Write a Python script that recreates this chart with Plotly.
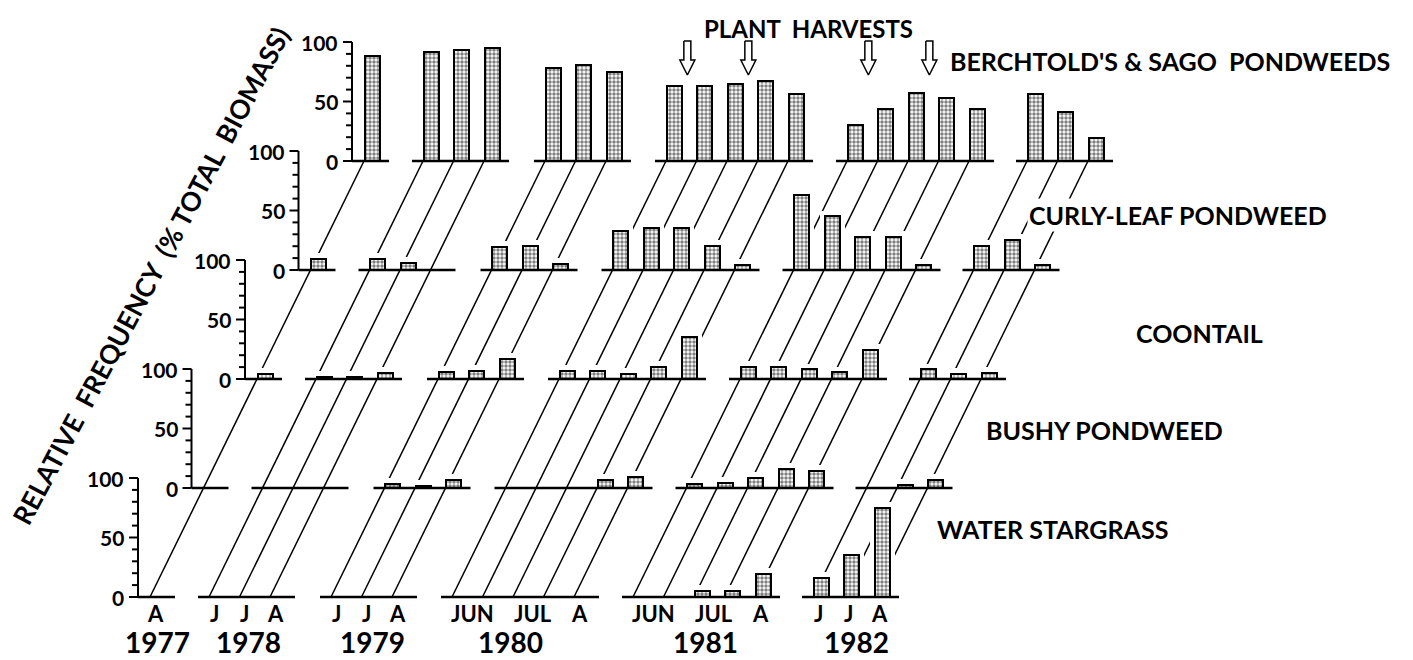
import plotly.graph_objects as go

# ---------------- data ----------------
years = ["1977", "1978", "1979", "1980", "1981", "1982"]
sample_months = [["Aug"], ["Jun", "Jul", "Aug"], ["Jun", "Jul", "Aug"],
                 ["Jun", "Jun", "Jul", "Jul", "Aug"], ["Jun", "Jun", "Jul", "Jul", "Aug"],
                 ["Jun", "Jul", "Aug"]]
short_month = {"Jun": "J", "Jul": "J", "Aug": "A"}
long_month = {"Jun": "JUN", "Jul": "JUL", "Aug": "A"}
month_style = ["short", "short", "short", "long", "long", "short"]

species = ["WATER STARGRASS", "BUSHY PONDWEED", "COONTAIL",
           "CURLY-LEAF PONDWEED", "BERCHTOLD'S & SAGO\u00a0\u00a0PONDWEEDS"]

# relative frequency (% of total biomass), per year, per sample
water_stargrass = [[0], [0, 0, 0], [0, 0, 0], [0, 0, 0, 0, 0], [0, 0, 5, 5, 19], [16, 35, 75]]
bushy_pondweed = [[0], [0, 0, 0], [3, 2, 7], [0, 0, 0, 7, 9], [3, 4, 8.5, 16, 14], [0, 2.5, 7]]
coontail = [[4], [2, 2, 5], [6, 6.5, 17], [7, 7, 4, 10, 35], [10, 10, 8, 5.5, 24], [8, 4, 5]]
curly_leaf = [[9], [9, 6, 0], [19, 20, 5], [33, 35, 35, 20, 4], [63, 45, 28, 27.5, 4], [20, 25, 4]]
berchtold_sago = [[88], [92, 93, 95], [78, 81, 75], [63, 63, 65, 67, 56], [30, 44, 57, 53, 44], [56, 41, 19]]
layers = [water_stargrass, bushy_pondweed, coontail, curly_leaf, berchtold_sago]

# plant harvests: (year, position in sample sequence)
harvests = [("1980", 0.7), ("1980", 2.7), ("1981", 0.7), ("1981", 2.7)]

axis_ticks = [0, 50, 100]

# ---------------- layout geometry (styling) ----------------
W, H = 1413, 660
S = 1.19              # px per percent unit
Y0 = 597              # px of front baseline
LAYER_DY = 109 / S    # units between stacked layers
LAYER_DX = 53.5       # horizontal depth offset per layer
AXIS_X0 = 138
YEAR_START = [150, 209, 331, 452, 633, 813]
YEAR_LABEL_X = [157, 248, 372, 510, 705, 856]
SPACING = 30.5
BAR_W = 15
BAR_OFF = 8
HALO_X = 5
HALO_Y = 5
FONT = "Lato"


def yu(px):
    return (Y0 - px) / S


def pts(yi):
    return [YEAR_START[yi] + i * SPACING for i in range(len(sample_months[yi]))]


def txt(x, y, text, size, **kw):
    d = dict(x=x, y=y, xref="x", yref="y", text=text, showarrow=False,
             font=dict(family=FONT, size=size, color="black", weight="bold"))
    d.update(kw)
    return d


fig = go.Figure()
shapes = []

# receding guide lines (one per sample), drawn below bars
for yi in range(len(years)):
    for p in pts(yi):
        shapes.append(dict(type="line", layer="below", xref="x", yref="y",
                           x0=p, y0=0, x1=p + 4 * LAYER_DX, y1=4 * LAYER_DY,
                           line=dict(color="black", width=1.5)))

# halo bars (white, to mask lines behind bars) and stippled bars
hx, hy, hb = [], [], []
bx, by, bb = [], [], []
for k, data in enumerate(layers):
    base = k * LAYER_DY
    for yi in range(len(years)):
        for p, v in zip(pts(yi), data[yi]):
            if v <= 0:
                continue
            xc = p + k * LAYER_DX + BAR_OFF
            hx.append(xc); hy.append(v + HALO_Y); hb.append(base)
            bx.append(xc); by.append(v); bb.append(base)

fig.add_trace(go.Bar(x=hx, y=hy, base=hb, width=BAR_W + 2 * HALO_X,
                     marker=dict(color="white", line=dict(width=0)),
                     hoverinfo="skip", showlegend=False))
fig.add_trace(go.Bar(x=bx, y=by, base=bb, width=BAR_W,
                     marker=dict(color="white",
                                 line=dict(color="black", width=2),
                                 pattern=dict(shape=".", fgcolor="black", bgcolor="white",
                                              size=4, solidity=0.6)),
                     hoverinfo="skip", showlegend=False))

# baselines
lx, ly = [], []
for k in range(len(layers)):
    base = k * LAYER_DY
    for yi in range(len(years)):
        ps = pts(yi)
        x_start = AXIS_X0 + k * LAYER_DX if yi == 0 else ps[0] - 11 + k * LAYER_DX
        lx += [x_start, ps[-1] + 25 + k * LAYER_DX, None]
        ly += [base, base, None]
fig.add_trace(go.Scatter(x=lx, y=ly, mode="lines", line=dict(color="black", width=2.5),
                         hoverinfo="skip", showlegend=False))

# stacked y axes with ticks
ax, ay = [], []
annotations = []
for k in range(len(layers)):
    base = k * LAYER_DY
    xa = AXIS_X0 + k * LAYER_DX
    ax += [xa, xa, None]
    ay += [base, base + 100, None]
    for t in range(0, 101, 10):
        ln = 9 if t in axis_ticks else 6
        ax += [xa - ln, xa, None]
        ay += [base + t, base + t, None]
    for t in axis_ticks:
        annotations.append(txt(xa - 12, base + t, str(t), 21, xanchor="right", yanchor="middle"))
fig.add_trace(go.Scatter(x=ax, y=ay, mode="lines", line=dict(color="black", width=2),
                         hoverinfo="skip", showlegend=False))

# harvest arrows (hollow)
arrow = [(-3.5, 34), (3.5, 34), (3.5, 15), (7.5, 15), (0, 0), (-7.5, 15), (-3.5, 15), (-3.5, 34)]
arx, ary = [], []
for yr, idx in harvests:
    yi = years.index(yr)
    xt = YEAR_START[yi] + idx * SPACING + 4 * LAYER_DX
    tip = yu(75)
    for dx, up in arrow:
        arx.append(xt + dx); ary.append(tip + up / S)
    arx.append(None); ary.append(None)
fig.add_trace(go.Scatter(x=arx, y=ary, mode="lines", line=dict(color="black", width=1.5),
                         fill="toself", fillcolor="white",
                         hoverinfo="skip", showlegend=False))

# month and year labels
for yi, yr in enumerate(years):
    ps = pts(yi)
    mt = short_month if month_style[yi] == "short" else long_month
    groups = []
    for p, m in zip(ps, sample_months[yi]):
        if month_style[yi] == "long" and groups and groups[-1][0] == m:
            groups[-1][1].append(p)
        else:
            groups.append([m, [p]])
    for m, gp in groups:
        annotations.append(txt(sum(gp) / len(gp) + 5, yu(613), mt[m], 22))
    annotations.append(txt(YEAR_LABEL_X[yi], yu(642), yr, 28))

# species labels
sp_pos = [(1052, 529), (1104, 430), (1199, 333), (1178, 215), (1170, 61)]
for name, (px, py) in zip(species, sp_pos):
    annotations.append(txt(px, yu(py), name, 25, bgcolor="white", borderpad=1))
annotations.append(txt(808, yu(28), "PLANT\u00a0\u00a0HARVESTS", 24))
annotations.append(dict(x=151, y=yu(276), xref="x", yref="y",
                        text="RELATIVE\u00a0\u00a0FREQUENCY\u00a0\u00a0(%\u00a0TOTAL\u00a0\u00a0BIOMASS)",
                        textangle=-62, showarrow=False,
                        font=dict(family=FONT, size=26.5, color="black", weight="bold")))

fig.update_layout(
    width=W, height=H, margin=dict(l=0, r=0, t=0, b=0),
    paper_bgcolor="white", plot_bgcolor="white",
    barmode="overlay", bargap=0,
    xaxis=dict(range=[0, W], visible=False, fixedrange=True),
    yaxis=dict(range=[yu(H), yu(0)], visible=False, fixedrange=True),
    shapes=shapes, annotations=annotations, showlegend=False,
)
fig.write_html("out.html", config={"displayModeBar": False},
               post_script="document.body.style.margin='0';document.body.style.padding='0';")
